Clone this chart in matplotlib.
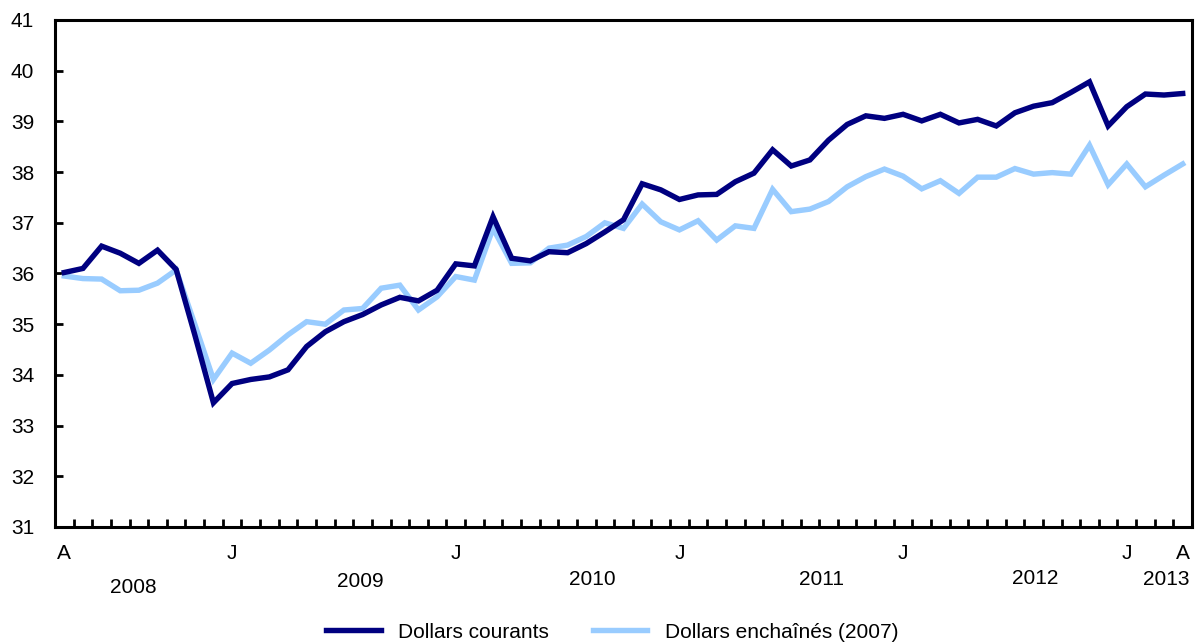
import numpy as np
import matplotlib.pyplot as plt
from matplotlib.transforms import blended_transform_factory

plt.rcParams['font.family'] = ['Liberation Sans', 'DejaVu Sans']

# monthly, April 2008 to April 2013
courants = [36.02, 36.10, 36.54, 36.40, 36.20, 36.46, 36.08, 34.79, 33.45, 33.83,
            33.91, 33.96, 34.10, 34.56, 34.85, 35.05, 35.19, 35.38, 35.53, 35.46,
            35.67, 36.19, 36.15, 37.12, 36.30, 36.25, 36.43, 36.41, 36.59, 36.82,
            37.06, 37.77, 37.65, 37.46, 37.55, 37.56, 37.81, 37.98, 38.44, 38.12,
            38.24, 38.63, 38.94, 39.11, 39.06, 39.14, 39.01, 39.14, 38.97, 39.04,
            38.91, 39.17, 39.30, 39.37, 39.57, 39.78, 38.91, 39.29, 39.54, 39.52,
            39.55]
enchaines = [35.95, 35.90, 35.89, 35.66, 35.67, 35.81, 36.07, 35.00, 33.91, 34.43,
             34.23, 34.49, 34.79, 35.05, 35.00, 35.28, 35.31, 35.71, 35.77, 35.28,
             35.54, 35.94, 35.87, 36.89, 36.20, 36.21, 36.50, 36.56, 36.73, 37.00,
             36.89, 37.37, 37.02, 36.86, 37.04, 36.66, 36.94, 36.89, 37.66, 37.22,
             37.27, 37.42, 37.71, 37.91, 38.06, 37.92, 37.67, 37.83, 37.58, 37.90,
             37.90, 38.07, 37.96, 37.99, 37.96, 38.53, 37.75, 38.16, 37.71, 37.94,
             38.16]
month_pos = [0, 9, 21, 33, 45, 57, 60]
month_lab = ['A', 'J', 'J', 'J', 'J', 'J', 'A']
years = ['2008', '2009', '2010', '2011', '2012', '2013']
year_pos = [3.7, 15.9, 28.3, 40.6, 52.1, 59.1]
year_y = [-0.12, -0.107, -0.103, -0.104, -0.102, -0.104]

x = np.arange(len(courants))

fig = plt.figure(figsize=(11.96, 6.43), dpi=100)
ax = fig.add_axes([55/1196, 1-527/643, (1192-55)/1196, (527-20)/643])

ax.plot(x, courants, color='#000080', lw=3.9, label='Dollars courants',
        solid_joinstyle='miter', zorder=3)
ax.plot(x, enchaines, color='#99ccff', lw=3.9, label='Dollars enchaînés (2007)',
        solid_joinstyle='miter', zorder=2)

ax.set_xlim(-0.5, len(courants) - 0.5)
ax.set_ylim(31, 41)
ax.set_yticks(range(31, 42))
ax.set_xticks(month_pos)
ax.set_xticklabels(month_lab)
ax.set_xticks(np.arange(0.5, len(courants) - 1, 1), minor=True)

for s in ax.spines.values():
    s.set_linewidth(2.2)
ax.tick_params(axis='y', direction='in', length=6, width=2, labelsize=15, pad=15)
ax.tick_params(axis='x', which='major', length=0, labelsize=15, pad=12)
ax.tick_params(axis='x', which='minor', direction='in', length=6, width=2)

trans = blended_transform_factory(ax.transData, ax.transAxes)
for yr, xp, yp in zip(years, year_pos, year_y):
    ax.text(xp, yp, yr, transform=trans, ha='center', va='center', fontsize=15)

fig.legend(loc='center', bbox_to_anchor=(0.512, 1-632/643), ncol=2, frameon=False,
           fontsize=15, handlelength=2.6, handletextpad=0.85, columnspacing=2.1)

plt.savefig('out.png', dpi=100)
